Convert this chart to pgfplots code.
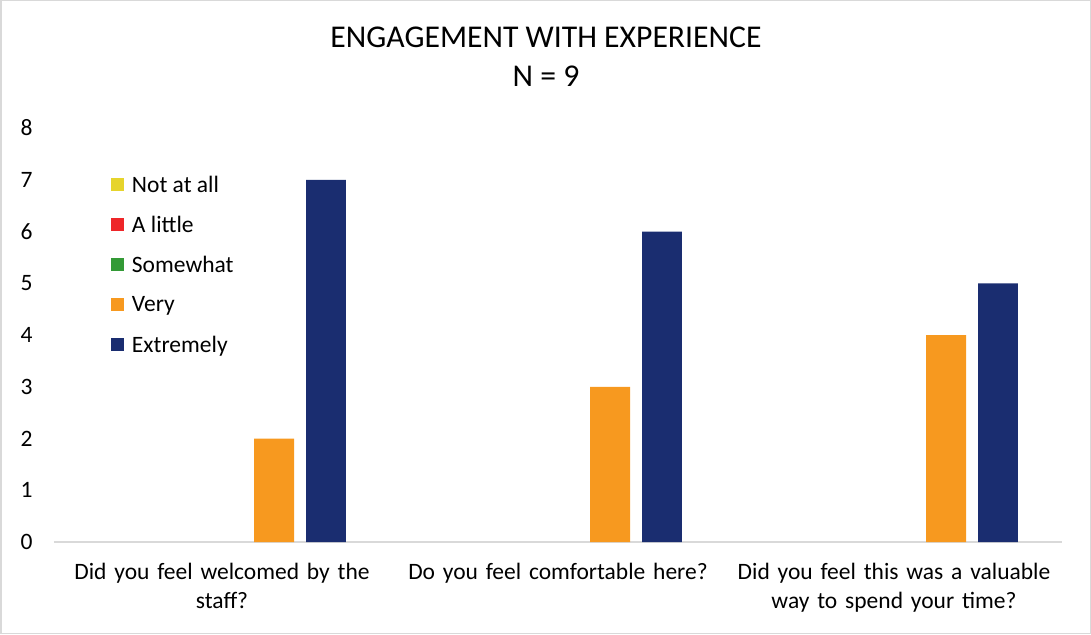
\documentclass[border=0pt]{standalone}
\usepackage{fontspec}
\setmainfont{Carlito}
\usepackage{pgfplots}
\pgfplotsset{compat=1.18}
\definecolor{cYellow}{HTML}{E6D42C}
\definecolor{cRed}{HTML}{EE2629}
\definecolor{cGreen}{HTML}{339A36}
\definecolor{cOrange}{HTML}{F7991F}
\definecolor{cNavy}{HTML}{1A2D70}
\definecolor{cAxis}{HTML}{D9D9D9}
\begin{document}
\begin{tikzpicture}
\useasboundingbox (0,0) rectangle (1091pt,634pt);
\draw[cAxis, line width=1.5pt] (0.75pt,0.75pt) rectangle (1090.25pt,633.25pt);
\node[align=center, font=\fontsize{31.7}{39}\selectfont] at (546pt,577pt) {ENGAGEMENT WITH EXPERIENCE\\N = 9};
\begin{axis}[
  at={(54pt,92pt)}, anchor=south west,
  scale only axis, width=1008pt, height=414pt,
  xmin=-0.5, xmax=2.5, ymin=0, ymax=8,
  ybar, bar width=0.119,
  xtick={0,1,2},
  xticklabels={{Did you feel welcomed by the\\staff?}, {Do you feel comfortable here?}, {Did you feel this was a valuable\\way to spend your time?}},
  xticklabel style={text width=330pt, align=center, font=\fontsize{23.5}{29}\selectfont, yshift=-18pt},
  ytick={0,1,...,8},
  yticklabel style={font=\fontsize{23.5}{25}\selectfont, xshift=-18pt},
  /pgf/number format/assume math mode=true,
  major tick length=0pt,
  axis x line=bottom, axis y line=left,
  x axis line style={cAxis, line width=1.5pt, -},
  y axis line style={draw=none},
  legend style={at={(0.0563,0.890)}, anchor=north west, draw=none, fill=none,
    font=\fontsize{23.5}{25}\selectfont, row sep=18.5pt, inner sep=0pt,
    /tikz/every odd column/.append style={column sep=6pt}},
  legend cell align=left,
  legend image code/.code={\fill[#1] (0pt,-6pt) rectangle (13pt,7pt);},
]
\addlegendimage{fill=cYellow, draw=none}
\addlegendimage{fill=cRed, draw=none}
\addlegendimage{fill=cGreen, draw=none}
\addplot[fill=cOrange, draw=none, bar shift=0.1548] coordinates {(0,2) (1,3) (2,4)};
\addplot[fill=cNavy, draw=none, bar shift=0.3095] coordinates {(0,7) (1,6) (2,5)};
\legend{Not at all, A little, Somewhat, Very, Extremely}
\end{axis}
\end{tikzpicture}
\end{document}
